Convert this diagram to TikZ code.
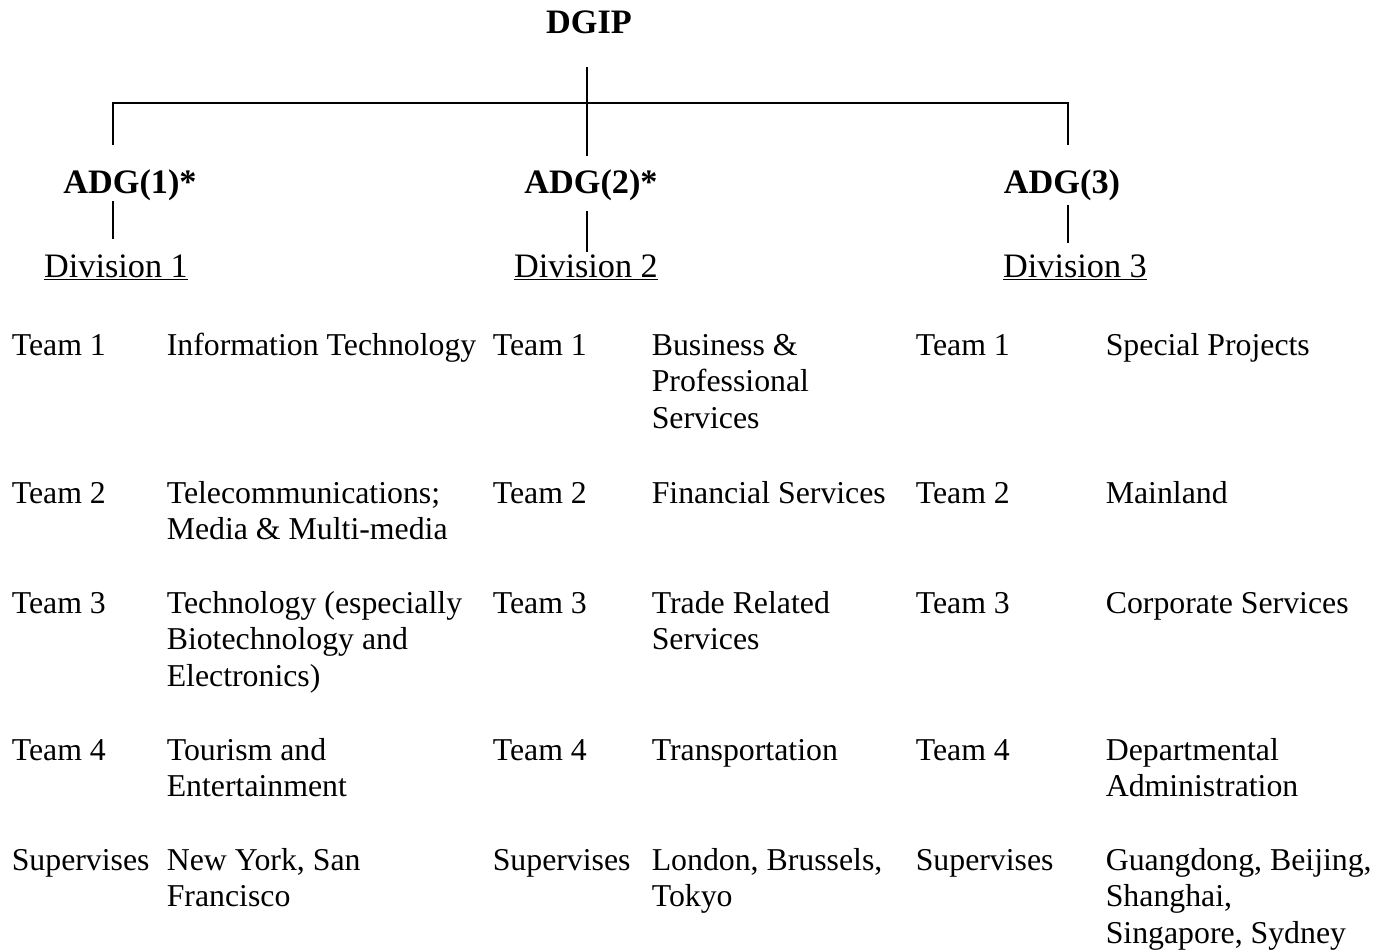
\documentclass[tikz,border=0pt]{standalone}
\usepackage{fontspec}
\setmainfont{Liberation Serif}
\usepackage{tikz}

% first line sits on the node's base
\newcommand{\stack}[1]{\begin{tabular}[t]{@{}l@{}}#1\end{tabular}}

\tikzset{
  head/.style={font=\fontsize{19.5}{21}\selectfont\bfseries, inner sep=0pt, anchor=base},
  div/.style={font=\fontsize{19.5}{21}\selectfont, inner sep=0pt, anchor=base},
  cell/.style={inner sep=0pt, anchor=base west}
}

\begin{document}
\fontsize{18.1}{21}\selectfont
\begin{tikzpicture}[x=0.02cm, y=-0.02cm, line width=0.9pt]
        \useasboundingbox (0,0) rectangle (1389,950);

        % heads
        \node[head](dgip) at (589,33) {DGIP};
        \node[head](adg1) at (130,193) {ADG(1)*};
        \node[head](adg2) at (591,193) {ADG(2)*};
        \node[head](adg3) at (1062,193) {ADG(3)};
        \node[div](div1) at (116,277) {\underline{Division 1}};
        \node[div](div2) at (586,277) {\underline{Division 2}};
        \node[div](div3) at (1075,277) {\underline{Division 3}};

        \coordinate (hub) at (587,103);
        \coordinate (tl) at (113,145);
        \coordinate (tr) at (1068,145);

        \draw[shorten <=18.7pt, shorten >=7pt] (dgip.south -| hub) -- (adg2.north -| hub);
        \draw (tl) |- (hub) -| (tr);
        \draw[shorten >=8pt] (adg1.south -| tl) -- (div1.north -| tl);
        \draw[shorten <=5.5pt, shorten >=1pt] (adg2.south -| hub) -- (div2.north -| hub);
        \draw[shorten <=2pt, shorten >=6pt] (adg3.south -| tr) -- (div3.north -| tr);

        % division 1
        \node[cell](a1) at (11,355) {Team 1};
        \node[cell](a2) at (11,503) {Team 2};
        \node[cell](a3) at (11,613) {Team 3};
        \node[cell](a4) at (11,760) {Team 4};
        \node[cell](a5) at (11,870) {Supervises};
        \node[cell](b1) at (166,355) {Information Technology};
        \node[cell](b2) at (166,503) {\stack{Telecommunications;\\Media \& Multi-media}};
        \node[cell](b3) at (166,613) {\stack{Technology (especially\\Biotechnology and\\Electronics)}};
        \node[cell](b4) at (166,760) {\stack{Tourism and\\Entertainment}};
        \node[cell](b5) at (166,870) {\stack{New York, San\\Francisco}};

        % division 2
        \node[cell](c1) at (492,355) {Team 1};
        \node[cell](c2) at (492,503) {Team 2};
        \node[cell](c3) at (492,613) {Team 3};
        \node[cell](c4) at (492,760) {Team 4};
        \node[cell](c5) at (492,870) {Supervises};
        \node[cell](d1) at (651,355) {\stack{Business \&\\Professional\\Services}};
        \node[cell](d2) at (651,503) {Financial Services};
        \node[cell](d3) at (651,613) {\stack{Trade Related\\Services}};
        \node[cell](d4) at (651,760) {Transportation};
        \node[cell](d5) at (651,870) {\stack{London, Brussels,\\Tokyo}};

        % division 3
        \node[cell](e1) at (915,355) {Team 1};
        \node[cell](e2) at (915,503) {Team 2};
        \node[cell](e3) at (915,613) {Team 3};
        \node[cell](e4) at (915,760) {Team 4};
        \node[cell](e5) at (915,870) {Supervises};
        \node[cell](f1) at (1105,355) {Special Projects};
        \node[cell](f2) at (1105,503) {Mainland};
        \node[cell](f3) at (1105,613) {Corporate Services};
        \node[cell](f4) at (1105,760) {\stack{Departmental\\Administration}};
        \node[cell](f5) at (1105,870) {\stack{Guangdong, Beijing,\\Shanghai,\\Singapore, Sydney}};
\end{tikzpicture}
\end{document}
